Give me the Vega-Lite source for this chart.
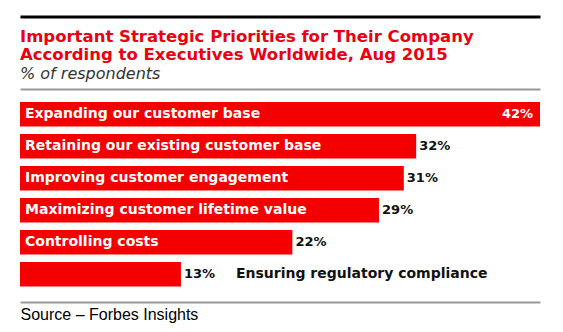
{
  "$schema": "https://vega.github.io/schema/vega-lite/v6.json",
  "autosize": {"type": "none"},
  "width": 520,
  "height": 213,
  "padding": {"left": 20, "top": 89, "right": 23, "bottom": 30},
  "background": "white",
  "config": {"view": {"stroke": null}},
  "title": {
    "text": ["Important Strategic Priorities for Their Company", "According to Executives Worldwide, Aug 2015"],
    "subtitle": "% of respondents",
    "anchor": "start",
    "frame": "group",
    "font": "DejaVu Sans",
    "fontSize": 16.5,
    "fontWeight": "bold",
    "color": "#ea0010",
    "lineHeight": 18,
    "subtitleFont": "DejaVu Sans",
    "subtitleFontStyle": "italic",
    "subtitleFontSize": 16,
    "subtitleColor": "#333333",
    "subtitlePadding": 3,
    "offset": -65.5
  },
  "data": {
    "values": [
      {"priority": "Expanding our customer base", "value": 42},
      {"priority": "Retaining our existing customer base", "value": 32},
      {"priority": "Improving customer engagement", "value": 31},
      {"priority": "Maximizing customer lifetime value", "value": 29},
      {"priority": "Controlling costs", "value": 22},
      {"priority": "Ensuring regulatory compliance", "value": 13}
    ]
  },
  "transform": [{"calculate": "datum.value + '%'", "as": "label"}],
  "encoding": {
    "y": {
      "field": "priority",
      "type": "nominal",
      "sort": null,
      "axis": null,
      "scale": {"paddingInner": 0.234, "paddingOuter": 0.445, "align": 0.456}
    }
  },
  "layer": [
    {
      "mark": {"type": "bar", "color": "#f50000"},
      "encoding": {
        "x": {
          "field": "value",
          "type": "quantitative",
          "scale": {"domain": [0, 42], "nice": false},
          "axis": {
            "orient": "bottom",
            "domain": true,
            "domainColor": "#999999",
            "domainWidth": 2,
            "ticks": false,
            "labels": false,
            "grid": false,
            "title": "Source – Forbes Insights",
            "titleAnchor": "start",
            "titleAlign": "left",
            "titleFont": "Liberation Sans",
            "titleFontSize": 16,
            "titleFontWeight": "normal",
            "titleColor": "#000000",
            "titlePadding": 4
          }
        }
      }
    },
    {
      "transform": [{"filter": "datum.value >= 20"}],
      "mark": {"type": "text", "align": "left", "baseline": "middle", "dx": 5, "font": "DejaVu Sans", "fontSize": 14, "fontWeight": "bold", "color": "white"},
      "encoding": {
        "x": {
          "datum": 0,
          "type": "quantitative",
          "axis": {
            "orient": "top",
            "domain": true,
            "domainColor": "#999999",
            "domainWidth": 2,
            "ticks": false,
            "labels": false,
            "grid": false,
            "title": null
          }
        },
        "text": {"field": "priority"}
      }
    },
    {
      "transform": [{"filter": "datum.value < 20"}],
      "mark": {"type": "text", "align": "left", "baseline": "middle", "dx": 55, "font": "DejaVu Sans", "fontSize": 14, "fontWeight": "bold", "color": "#111111"},
      "encoding": {
        "x": {
          "field": "value",
          "type": "quantitative",
          "axis": {
            "orient": "top",
            "offset": 72.5,
            "domain": true,
            "domainColor": "#000000",
            "domainWidth": 3,
            "ticks": false,
            "labels": false,
            "grid": false,
            "title": null
          }
        },
        "text": {"field": "priority"}
      }
    },
    {
      "transform": [{"filter": "datum.value >= 40"}],
      "mark": {"type": "text", "align": "right", "baseline": "middle", "dx": -7, "font": "DejaVu Sans", "fontSize": 13, "fontWeight": "bold", "color": "white"},
      "encoding": {
        "x": {"field": "value", "type": "quantitative", "axis": null},
        "text": {"field": "label"}
      }
    },
    {
      "transform": [{"filter": "datum.value < 40"}],
      "mark": {"type": "text", "align": "left", "baseline": "middle", "dx": 3, "font": "DejaVu Sans", "fontSize": 13, "fontWeight": "bold", "color": "#111111"},
      "encoding": {
        "x": {"field": "value", "type": "quantitative", "axis": null},
        "text": {"field": "label"}
      }
    }
  ],
  "resolve": {"axis": {"x": "independent"}}
}
